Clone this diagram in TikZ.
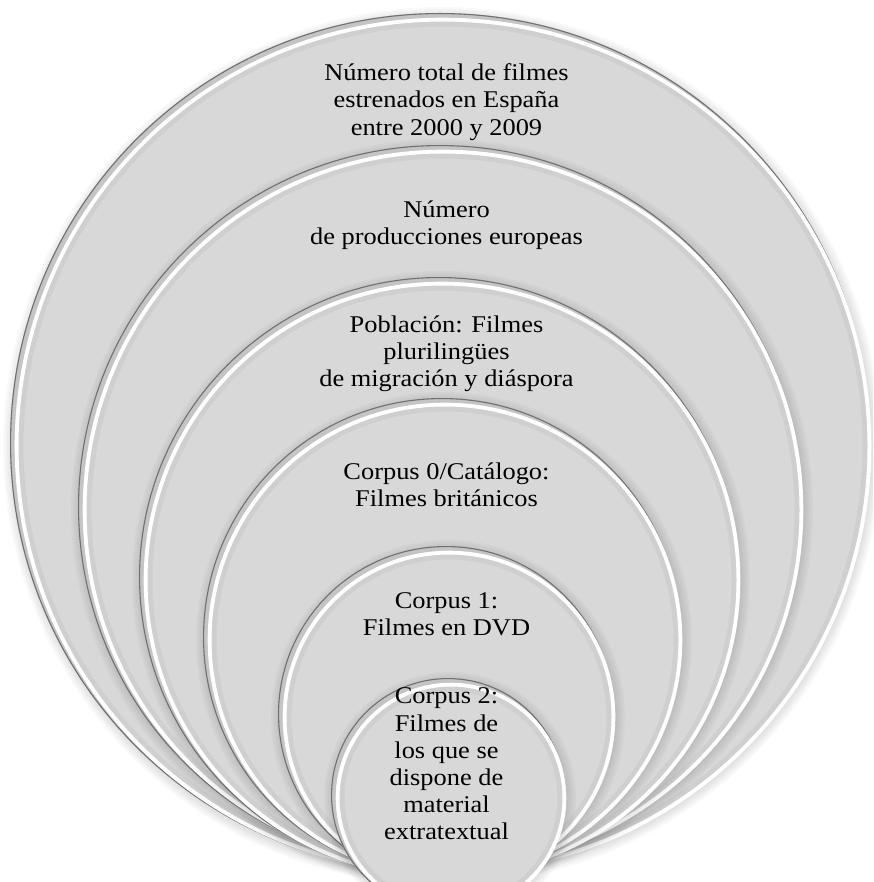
\documentclass[tikz,border=0pt]{standalone}
\usepackage{fontspec}
\setmainfont{Liberation Serif}[FakeStretch=1.1]
\begin{document}
\begin{tikzpicture}[x=1pt,y=-1pt,
  label/.style={align=center,inner sep=0pt,text=black,
    font=\fontsize{24}{27.2}\selectfont}]
\definecolor{ringfill}{RGB}{216,216,216}
\definecolor{ringband}{RGB}{196,196,196}
\definecolor{ringedge}{RGB}{112,112,112}
\useasboundingbox (0,0) rectangle (873,882);
\clip (0,0) rectangle (873,882);
% one bevelled disc: centre x, centre y, radius
\newcommand\bevelring[3]{%
  \foreach \sk in {1,3,5,7,9}
    {\fill[black,opacity=0.022] (#1+2,#2+3) circle ({#3+\sk});}
  \fill[ringband] (#1,#2) circle (#3);
  \draw[ringedge,line width=1.1pt] (#1,#2) circle ({#3-0.55});
  \fill[ringfill] (#1+3,#2+3) circle ({#3-4});
  \draw[black,opacity=0.04,line width=5pt] (#1+3,#2+3) circle ({#3-8});
  \draw[white,line width=3.8pt] (#1+3,#2+3) circle ({#3-3.6});
}
\bevelring{440}{443}{430}
\bevelring{440}{507}{362}
\bevelring{439}{577}{300}
\bevelring{442}{637}{239}
\bevelring{446}{714}{168}
\bevelring{448}{795}{117}

\node[label] (t1) at (446.5,102) {Número total de filmes\\estrenados en España\\entre 2000 y 2009};
\node[label] (t2) at (446.5,225) {Número\\de producciones europeas};
\node[label] (t3) at (446.5,354) {Población: Filmes\\plurilingües\\de migración y diáspora};
\node[label] (t4) at (446.5,485) {Corpus 0/Catálogo:\\Filmes británicos};
\node[label] (t5) at (446.5,614) {Corpus 1:\\Filmes en DVD};
\node[label] (t6) at (446.5,764) {Corpus 2:\\Filmes de\\los que se\\dispone de\\material\\extratextual};
\end{tikzpicture}
\end{document}
